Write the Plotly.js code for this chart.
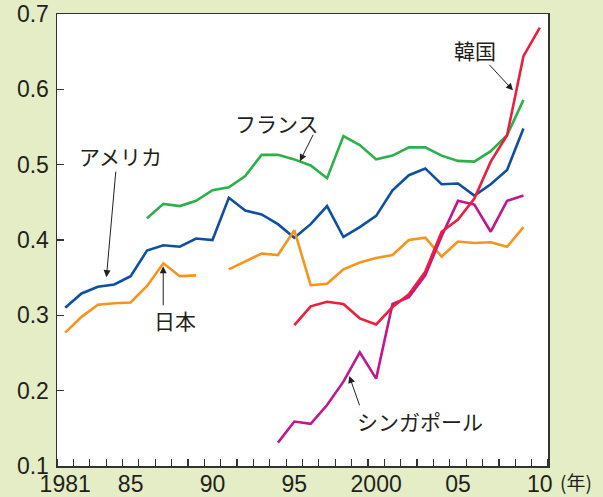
<!DOCTYPE html>
<html>
<head>
<meta charset="utf-8">
<script src="https://cdn.plot.ly/plotly-3.0.1.min.js"></script>
<style>html,body{margin:0;padding:0;background:#e4edc5;}#chart{width:603px;height:497px;}</style>
</head>
<body>
<div id="chart"></div>
<script>
const yearsAll = [1981,1982,1983,1984,1985,1986,1987,1988,1989,1990,1991,1992,1993,1994,1995,1996,1997,1998,1999,2000,2001,2002,2003,2004,2005,2006,2007,2008,2009];
const usa = [0.310,0.329,0.338,0.341,0.352,0.386,0.393,0.391,0.402,0.400,0.456,0.439,0.434,0.421,0.403,0.421,0.445,0.404,0.417,0.432,0.466,0.486,0.495,0.474,0.475,0.459,0.474,0.493,0.548];
const japan = [0.277,0.298,0.314,0.316,0.317,0.339,0.369,0.352,0.353,null,0.361,0.371,0.382,0.380,0.413,0.340,0.342,0.361,0.370,0.376,0.380,0.400,0.403,0.378,0.398,0.396,0.397,0.391,0.417];
const franceYears = [1986,1987,1988,1989,1990,1991,1992,1993,1994,1995,1996,1997,1998,1999,2000,2001,2002,2003,2004,2005,2006,2007,2008,2009];
const france = [0.429,0.448,0.445,0.452,0.466,0.470,0.485,0.513,0.513,0.507,0.499,0.482,0.538,0.526,0.507,0.512,0.523,0.523,0.512,0.505,0.504,0.518,0.539,0.586];
const koreaYears = [1995,1996,1997,1998,1999,2000,2001,2002,2003,2004,2005,2006,2007,2008,2009,2010];
const korea = [0.287,0.312,0.318,0.315,0.296,0.288,0.311,0.328,0.358,0.411,0.427,0.455,0.504,0.539,0.644,0.682];
const singaporeYears = [1994,1995,1996,1997,1998,1999,2000,2001,2002,2003,2004,2005,2006,2007,2008,2009];
const singapore = [0.131,0.159,0.156,0.181,0.212,0.251,0.216,0.315,0.324,0.353,0.405,0.452,0.447,0.411,0.452,0.459];

const xTickVals = [1981,1985,1990,1995,2000,2005,2010];
const xTickText = ['1981','85','90','95','2000','05','10'];
const yTickVals = [0.1,0.2,0.3,0.4,0.5,0.6,0.7];

const LW = 2.6;
function line(x, y, color, name) {
  return {x: x, y: y, type: 'scatter', mode: 'lines', name: name,
    line: {color: color, width: LW}, connectgaps: false, hoverinfo: 'skip'};
}
const traces = [
  line(franceYears, france, '#2bb04a', 'フランス'),
  line(yearsAll, usa, '#0f4fa3', 'アメリカ'),
  line(yearsAll, japan, '#f7941d', '日本'),
  line(singaporeYears, singapore, '#c0178d', 'シンガポール'),
  line(koreaYears, korea, '#ee1d3c', '韓国')
];

const jp = {family: '"Noto Sans CJK JP", sans-serif', size: 21, color: '#231f20'};
function label(x, y, t) {
  return {x: x, y: y, xref: 'x', yref: 'y', text: t, showarrow: false, font: jp, xanchor: 'center', yanchor: 'middle'};
}
function arrow(x, y, ax, ay) {
  return {x: x, y: y, xref: 'x', yref: 'y', text: '', showarrow: true, ax: ax, ay: ay,
    arrowhead: 2, arrowsize: 1.4, arrowwidth: 1, arrowcolor: '#231f20'};
}
const annotations = [
  label(1984.35, 0.511, 'アメリカ'),
  label(1993.94, 0.555, 'フランス'),
  label(2006.03, 0.652, '韓国'),
  label(1987.71, 0.2936, '日本'),
  label(2002.67, 0.160, 'シンガポール'),
  arrow(1983.52, 0.3507, 9.5, -107),
  arrow(1995.34, 0.5045, 14, -28),
  arrow(2008.36, 0.5987, -25, -27),
  arrow(1986.99, 0.3653, 0, 40.7),
  arrow(1998.36, 0.2194, 10.7, 30.7),
  {x: 1.057, y: -0.035, xref: 'paper', yref: 'paper', text: '(年)', showarrow: false, borderpad: 0,
   font: {family: '"Noto Sans CJK JP", sans-serif', size: 19, color: '#231f20'}, xanchor: 'center', yanchor: 'middle'}
];

const tickFont = {family: '"Liberation Sans", Arial, sans-serif', size: 23, color: '#231f20'};
const layout = {
  width: 603, height: 497,
  margin: {l: 57, r: 55, t: 14, b: 31, pad: 0},
  paper_bgcolor: '#e4edc5',
  plot_bgcolor: '#ffffff',
  showlegend: false,
  xaxis: {
    range: [1980.5, 2010.5], tickmode: 'array', tickvals: xTickVals, ticktext: xTickText,
    ticks: '', showgrid: false, zeroline: false, showline: true, linecolor: '#333333', linewidth: 1.5,
    mirror: true, tickfont: tickFont, fixedrange: true, ticklabelstandoff: -3,
    minor: {tickmode: 'linear', tick0: 1980.5, dtick: 1, ticks: 'inside', ticklen: 7, tickcolor: '#333333', tickwidth: 1.2, showgrid: false}
  },
  yaxis: {
    range: [0.1, 0.7], tickmode: 'array', tickvals: yTickVals, tickformat: '.1f',
    ticks: 'inside', ticklen: 7, tickcolor: '#333333', tickwidth: 1.2,
    showgrid: false, zeroline: false, showline: true, linecolor: '#333333', linewidth: 1.5,
    mirror: true, tickfont: tickFont, fixedrange: true, ticklabelstandoff: 2
  },
  annotations: annotations
};
Plotly.newPlot('chart', traces, layout, {staticPlot: true, displayModeBar: false});
</script>
</body>
</html>
